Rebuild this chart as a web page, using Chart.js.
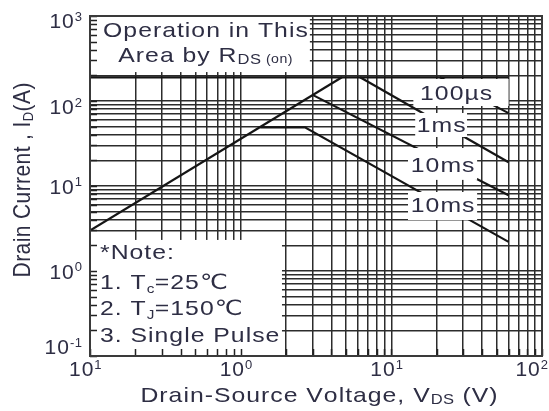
<!DOCTYPE html>
<html>
<head>
<meta charset="utf-8">
<script src="https://cdn.jsdelivr.net/npm/chart.js@4.4.1/dist/chart.umd.min.js"></script>
<style>
  html, body { margin: 0; padding: 0; background: #fff; }
  canvas { display: block; }
</style>
</head>
<body>
<canvas id="soa" width="549" height="411"></canvas>
<script>
// Safe operating area: drain current vs drain-source voltage (log-log)
const rdsOnV = [0.1, 4.7];
const rdsOnI = [3.0, 190];
const pulseLimitV = [0.1, 60];
const pulseLimitI = [190, 190];
const t100usV = [21, 60];
const t100usI = [190, 72];
const t1msV = [6.2, 60];
const t1msI = [190, 19];
const t10msV = [3.0, 60];
const t10msI = [118, 7.8];
const t10msLowV = [1.35, 2.67, 60];
const t10msLowI = [49, 49, 2.2];

const xTickValues = [0.1, 1, 10, 100];
const xTickExps = ['1', '0', '1', '2'];
const yTickValues = [1000, 100, 10, 1, 0.1];
const yTickExps = ['3', '2', '1', '0', '-1'];
const curveLabels = ['100µs', '1ms', '10ms', '10ms'];
const noteLines = ['*Note:', '1. T|c|=25℃', '2. T|J|=150℃', '3. Single Pulse'];

// ---- placement of the annotation panels and labels (data units) ----
const labelAt = [
  { v: 26.9, i: 125.9 },
  { v: 21.4, i: 53 },
  { v: 21.9, i: 17.9 },
  { v: 21.9, i: 6.05 }
];
const maskBoxes = [
  { v: [0.1, 2.88], i: [219, 1000] },   // R_DS(on) note
  { v: [14.0, 60], i: [87.3, 181.5] },  // 100µs
  { v: [14.4, 31.8], i: [37.7, 72.3] }, // 1ms
  { v: [12.9, 37.1], i: [11.8, 28] },   // 10ms
  { v: [12.9, 37.1], i: [3.98, 8.5] },  // 10ms
  { v: [0.1, 1.88], i: [0.1, 2.32] }    // notes
];

function decadeGrid(lo, hi) {
  const out = [];
  for (let e = lo; e < hi; e++) {
    for (let m = 1; m < 10; m++) out.push(+(m * Math.pow(10, e)).toPrecision(3));
  }
  out.push(Math.pow(10, hi));
  return out;
}
const xGrid = decadeGrid(-1, 2);
const yGrid = decadeGrid(-1, 3);

const FONT = '"Liberation Sans", Arial, Helvetica, "DejaVu Sans", sans-serif';
const TEXT = '#2e2e44';
const font = px => px + 'px ' + FONT;
const WIDE = 1.18;

function runWidth(ctx, runs) {
  let w = 0;
  runs.forEach((r, k) => {
    ctx.font = font(r.size);
    const sx = r.sx || 1;
    for (const ch of r.t) w += ctx.measureText(ch).width * sx + r.sp;
    if (k === runs.length - 1) w -= r.sp;
  });
  return w;
}
function drawRuns(ctx, runs, x, y, align) {
  const w = runWidth(ctx, runs);
  let cx = align === 'center' ? x - w / 2 : align === 'right' ? x - w : x;
  runs.forEach(r => {
    ctx.font = font(r.size);
    const sx = r.sx || 1;
    for (const ch of r.t) {
      ctx.save();
      ctx.translate(cx, y + (r.dy || 0));
      ctx.scale(sx, 1);
      ctx.fillText(ch, 0, 0);
      ctx.restore();
      cx += ctx.measureText(ch).width * sx + r.sp;
    }
  });
}
const txt = (t, extra) => Object.assign({ t, size: 21, sp: 1, sx: WIDE }, extra || {});
// "1. T|c|=25℃" -> normal / subscript / normal
function noteRuns(line) {
  return line.split('|').map((t, k) => k % 2 ? txt(t, { size: 13, sp: 0.5, dy: 4 }) : txt(t));
}

const toXY = (vs, is) => vs.map((v, k) => ({ x: v, y: is[k] }));
const lineSet = (vs, is) => ({
  data: toXY(vs, is),
  borderColor: '#151515',
  borderWidth: 2.2,
  pointRadius: 0,
  tension: 0,
  fill: false
});

const overlay = {
  id: 'overlay',
  afterDatasetsDraw(chart) {
    const { ctx, chartArea: a } = chart;
    const x = chart.scales.x, y = chart.scales.y;
    ctx.save();
    // blank panels behind the text
    ctx.fillStyle = '#fff';
    const px = [];
    maskBoxes.forEach(b => {
      const l = x.getPixelForValue(b.v[0]), r = x.getPixelForValue(b.v[1]);
      const t = y.getPixelForValue(b.i[1]), bt = y.getPixelForValue(b.i[0]);
      ctx.fillRect(l, t, r - l, bt - t);
      px.push({ l, r, t, b: bt });
    });
    // inner tick marks on left and bottom axes
    ctx.strokeStyle = '#222';
    ctx.lineWidth = 1.5;
    ctx.beginPath();
    yGrid.forEach(v => { const p = Math.round(y.getPixelForValue(v)) + 0.5; ctx.moveTo(a.left, p); ctx.lineTo(a.left + 7, p); });
    xGrid.forEach(v => { const p = Math.round(x.getPixelForValue(v)) + 0.5; ctx.moveTo(p, a.bottom); ctx.lineTo(p, a.bottom - 7); });
    ctx.stroke();
    // frame
    ctx.strokeStyle = '#3a3a3a';
    ctx.lineWidth = 2;
    ctx.strokeRect(a.left, a.top, a.right - a.left, a.bottom - a.top);

    ctx.fillStyle = TEXT;
    ctx.textAlign = 'left';
    ctx.textBaseline = 'alphabetic';
    // curve labels
    curveLabels.forEach((s, k) => {
      const cx = x.getPixelForValue(labelAt[k].v), cy = y.getPixelForValue(labelAt[k].i);
      drawRuns(ctx, [txt(s)], cx, cy + 7.5, 'center');
    });
    // R_DS(on) panel
    const op = px[0];
    const ocx = (op.l + op.r) / 2 + 5.5;
    drawRuns(ctx, [txt('Operation in This')], ocx, op.t + 20.5, 'center');
    drawRuns(ctx, [
      txt('Area by R'),
      txt('DS', { size: 14, sp: 0.5, dy: 2 }),
      txt(' (on)', { size: 12, sp: 0.5, dy: 1 })
    ], ocx, op.t + 45.5, 'center');
    // notes panel
    const nb = px[5];
    const offs = [19.5, 49.5, 75.5, 102.5];
    noteLines.forEach((s, k) => drawRuns(ctx, noteRuns(s), nb.l + 10, nb.t + offs[k], 'left'));
    ctx.restore();
  },
  afterDraw(chart) {
    const { ctx, chartArea: a } = chart;
    const x = chart.scales.x, y = chart.scales.y;
    ctx.save();
    ctx.fillStyle = TEXT;
    ctx.textAlign = 'left';
    ctx.textBaseline = 'alphabetic';
    // y tick labels
    const yNudge = [4.5, 5.5, 0, 0, -9.5];
    yTickValues.forEach((v, k) => {
      const p = y.getPixelForValue(v) + yNudge[k] + 7.5;
      drawRuns(ctx, [{ t: '10', size: 21, sp: 1 }, { t: yTickExps[k], size: 13, sp: 0.5, dy: -7.5 }], a.left - 8, p, 'right');
    });
    // x tick labels
    xTickValues.forEach((v, k) => {
      const runs = [{ t: '10', size: 21, sp: 1 }, { t: xTickExps[k], size: 13, sp: 0.5, dy: -7.5 }];
      const w = runWidth(ctx, runs);
      let left = x.getPixelForValue(v) - 21;
      if (left + w > chart.width - 1) left = chart.width - 1 - w;
      drawRuns(ctx, runs, left, 376, 'left');
    });
    // x title
    drawRuns(ctx, [
      txt('Drain-Source Voltage, V'),
      txt('DS', { size: 14, sp: 0.5, dy: 2 }),
      txt(' (V)')
    ], 319, 402, 'center');
    // y title (glyphs widened across the reading direction)
    ctx.translate(22, 180);
    ctx.rotate(-Math.PI / 2);
    ctx.scale(1, WIDE);
    drawRuns(ctx, [
      { t: 'Drain Current , I', size: 21, sp: 0.4 },
      { t: 'D', size: 13, sp: 0.4, dy: 3 },
      { t: '(A)', size: 21, sp: 0.4 }
    ], 0, 6.4, 'center');
    ctx.restore();
  }
};

const gridOpts = { color: '#2c2c2c', lineWidth: 1.5, drawTicks: false };

new Chart(document.getElementById('soa'), {
  type: 'line',
  data: {
    datasets: [
      lineSet(rdsOnV, rdsOnI),
      lineSet(pulseLimitV, pulseLimitI),
      lineSet(t100usV, t100usI),
      lineSet(t1msV, t1msI),
      lineSet(t10msV, t10msI),
      lineSet(t10msLowV, t10msLowI)
    ]
  },
  options: {
    responsive: false,
    animation: false,
    events: [],
    layout: { padding: { left: 90, top: 16, right: 7, bottom: 55 } },
    plugins: { legend: { display: false }, tooltip: { enabled: false } },
    scales: {
      x: {
        type: 'logarithmic', min: 0.1, max: 100,
        afterBuildTicks: s => { s.ticks = xGrid.map(v => ({ value: v })); },
        afterFit: s => { s.height = 0; },
        ticks: { display: false, autoSkip: false },
        grid: gridOpts,
        border: { display: false }
      },
      y: {
        type: 'logarithmic', min: 0.1, max: 1000,
        afterBuildTicks: s => { s.ticks = yGrid.map(v => ({ value: v })); },
        afterFit: s => { s.width = 0; },
        ticks: { display: false, autoSkip: false },
        grid: gridOpts,
        border: { display: false }
      }
    }
  },
  plugins: [overlay]
});
</script>
</body>
</html>
